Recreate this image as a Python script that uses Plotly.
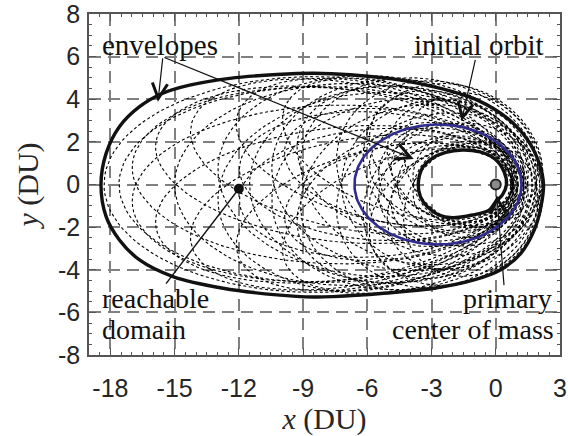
import numpy as np
import plotly.graph_objects as go

# Transfer-orbit family: periapsis radius, apoapsis radius (DU), periapsis direction (deg)
orbit_rp = [1.40, 1.20, 1.00, 1.00,
            0.80, 0.80, 0.80, 0.80, 0.78, 0.78, 0.80, 0.80,
            1.50, 1.70, 1.70, 1.85, 1.90, 1.90, 2.05, 2.05,
            2.15, 2.15, 2.20, 2.10, 2.10, 1.70, 1.70,
            0.75, 0.75, 0.70, 0.70, 1.30, 1.30, 1.20, 1.20,
            0.90, 0.90, 1.20, 1.20, 1.40, 1.40, 1.00, 1.00,
            1.05, 1.30, 1.30]
orbit_ra = [18.3, 17.6, 17.0, 17.0,
            16.0, 16.0, 14.5, 14.5, 12.5, 12.5, 10.5, 10.5,
            15.0, 13.0, 13.0, 11.5, 10.5, 10.5, 9.2, 9.2,
            7.6, 7.6, 7.2, 6.5, 6.5, 5.0, 5.0,
            12.0, 12.0, 10.0, 10.0, 9.5, 9.5, 6.5, 6.5,
            6.0, 6.0, 5.5, 5.5, 5.5, 5.5, 5.0, 5.0,
            4.6, 3.9, 3.9]
orbit_peri_deg = [0, 0, 3, -3,
                  7, -7, 11, -11, 15, -15, 20, -20,
                  0, 4, -4, 0, 6, -6, 10, -10,
                  16, -16, 0, 25, -25, 45, -45,
                  4, -4, 10, -10, 14, -14, 30, -30,
                  12, -12, 8, -8, 30, -30, 15, -15,
                  0, 10, -10]

# Initial orbit elements
init_rp, init_ra, init_peri_deg = 1.2, 6.6, 0.0

# Envelopes of the reachable domain
outer_x = [2.23, 2.03, 1.49, 0.55, -0.86, -2.58, -4.45, -6.80, -8.50, -10.23,
           -12.42, -14.30, -15.55, -16.64, -17.58, -18.20, -18.44, -18.20, -17.58, -16.64,
           -15.08, -12.74, -10.23, -8.50, -7.58, -5.23, -2.89, -1.02, 0.23, 1.17,
           1.80, 2.11, 2.23]
outer_y = [0.00, 0.99, 2.09, 3.10, 3.96, 4.51, 4.90, 5.15, 5.22, 5.16,
           4.98, 4.66, 4.28, 3.65, 2.71, 1.46, 0.00, -1.51, -2.60, -3.54,
           -4.32, -4.87, -5.18, -5.28, -5.26, -5.10, -4.87, -4.48, -4.00, -3.23,
           -2.13, -1.04, 0.00]
inner_x = [0.50, 0.39, -0.08, -0.78, -1.56, -2.34, -2.97, -3.44, -3.62, -3.52,
           -3.20, -2.66, -2.03, -1.09, -0.31, 0.00, 0.31, 0.50]
inner_y = [0.00, 0.60, 1.23, 1.54, 1.62, 1.51, 1.23, 0.76, 0.00, -0.57,
           -1.04, -1.43, -1.56, -1.43, -1.20, -0.80, -0.49, 0.00]

primary_x, primary_y = [0.0], [0.0]
domain_x, domain_y = [-12.0], [-0.2]

x_ticks = [-18, -15, -12, -9, -6, -3, 0, 3]
x_labels = ["-18", "-15", "-12", "-9", "-6", "-3", "0", "3"]
y_ticks = [-8, -6, -4, -2, 0, 2, 4, 6, 8]
y_labels = ["-8", "-6", "-4", "-2", "0", "2", "4", "6", "8"]


def conic(rp, ra, peri_deg, n=400):
    """Keplerian ellipse with the primary at one focus."""
    e = (ra - rp) / (ra + rp)
    p = 2.0 * rp * ra / (rp + ra)
    th = np.linspace(0.0, 2.0 * np.pi, n)
    r = p / (1.0 + e * np.cos(th))
    w = np.radians(peri_deg)
    return r * np.cos(th + w), r * np.sin(th + w)


fig = go.Figure()

# dotted family of orbits, one trace with gaps between curves
fx, fy = [], []
for rp, ra, w in zip(orbit_rp, orbit_ra, orbit_peri_deg):
    cx, cy = conic(rp, ra, w)
    fx += list(cx) + [None]
    fy += list(cy) + [None]
fig.add_trace(go.Scatter(x=fx, y=fy, mode="lines", hoverinfo="skip",
                         line=dict(color="black", width=1.1, dash="3px,2.5px")))

# initial orbit
ix, iy = conic(init_rp, init_ra, init_peri_deg)
fig.add_trace(go.Scatter(x=ix, y=iy, mode="lines",
                         line=dict(color="#302c8e", width=2.6)))

# envelopes
for ex, ey in ((outer_x, outer_y), (inner_x, inner_y)):
    fig.add_trace(go.Scatter(x=ex, y=ey, mode="lines",
                             line=dict(color="#111111", width=3.4,
                                       shape="spline", smoothing=1.0)))

# reachable-domain pointer line
fig.add_trace(go.Scatter(x=[-15.4, domain_x[0]], y=[-4.65, domain_y[0]], mode="lines",
                         line=dict(color="#111111", width=1.4)))

# markers
fig.add_trace(go.Scatter(x=domain_x, y=domain_y, mode="markers",
                         marker=dict(color="#111111", size=10)))
fig.add_trace(go.Scatter(x=primary_x, y=primary_y, mode="markers",
                         marker=dict(color="#8a8a8a", size=10,
                                     line=dict(color="#222222", width=2))))

serif = "Liberation Serif"
top_font = dict(family=serif, size=29, color="#111111")
bottom_font = dict(family=serif, size=28, color="#111111")


def arrow(tail, tip):
    return dict(x=tip[0], y=tip[1], ax=tail[0], ay=tail[1], xref="x", yref="y",
                axref="x", ayref="y", text="", showarrow=True, arrowhead=5,
                arrowsize=2.5, arrowwidth=1.2, arrowcolor="#111111")


labels = [
    dict(x=-18.5, y=6.55, text="envelopes", xanchor="left", font=top_font),
    dict(x=2.35, y=6.55, text="initial orbit", xanchor="right", font=top_font),
    dict(x=-18.5, y=-5.33, text="reachable", xanchor="left", font=bottom_font),
    dict(x=-18.5, y=-6.80, text="domain", xanchor="left", font=bottom_font),
    dict(x=2.72, y=-5.33, text="primary", xanchor="right", font=bottom_font),
    dict(x=2.8, y=-6.80, text="center of mass", xanchor="right", font=bottom_font),
]
for a in labels:
    a.update(xref="x", yref="y", showarrow=False, yanchor="middle")

annotations = [
    arrow((-15.55, 5.99), (-15.78, 3.88)),
    arrow((-15.55, 5.99), (-3.83, 1.20)),
    arrow((-0.94, 5.92), (-1.60, 2.98)),
    arrow((0.39, -4.79), (0.05, -0.50)),
] + labels

axis_common = dict(
    ticks="inside", ticklen=7, tickwidth=1.3, tickcolor="#555555",
    showline=True, linecolor="#555555", linewidth=1.6, mirror="allticks",
    showgrid=True, gridcolor="#808080", gridwidth=1.6, griddash="12px,7px",
    zeroline=False, ticklabeloverflow="allow", automargin=False,
    minor=dict(dtick=0.5, ticks="inside", ticklen=3.5, tickwidth=1.1,
               tickcolor="#555555", showgrid=False),
    tickfont=dict(family="Liberation Sans", size=25, color="#262626"),
)

fig.update_layout(
    width=568, height=436,
    margin=dict(l=89, r=8, t=14, b=81),
    paper_bgcolor="white", plot_bgcolor="white",
    showlegend=False,
    annotations=annotations,
    xaxis=dict(range=[-19, 3], tickvals=x_ticks, ticktext=x_labels,
               ticklabelstandoff=10,
               title=dict(text="<i>x</i> (DU)", font=dict(family=serif, size=30, color="#262626"),
                          standoff=8),
               **axis_common),
    yaxis=dict(range=[-8.0001, 8.0001], tickvals=y_ticks, ticktext=y_labels,
               ticklabelstandoff=2,
               title=dict(text="<i>y</i> (DU)", font=dict(family=serif, size=30, color="#262626"),
                          standoff=10),
               **axis_common),
)

fig.write_html("out.html")
